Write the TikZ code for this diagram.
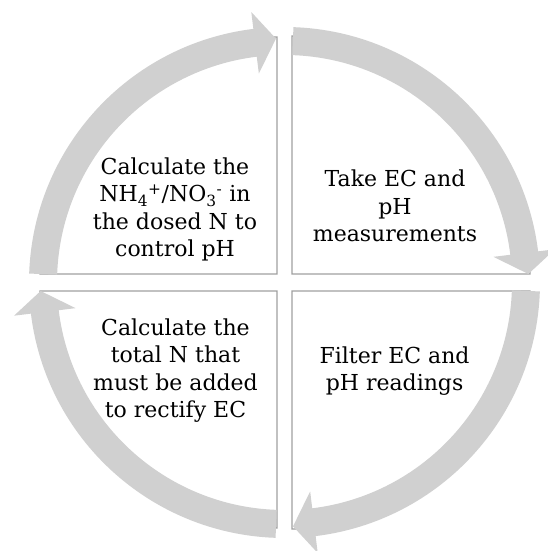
\documentclass[tikz,border=0pt]{standalone}
\usepackage{fontspec}
\setmainfont{DejaVu Serif}
\definecolor{bandgray}{HTML}{D0D0D0}
\definecolor{linegray}{HTML}{A0A0A0}
\begin{document}
\begin{tikzpicture}[x=1pt,y=1pt,
  pie/.style={draw=linegray, line width=1.3pt, fill=white},
  band/.style={fill=bandgray},
  lbl/.style={align=center, font=\fontsize{22}{27.5}\selectfont, inner sep=0pt, text=black}]
\useasboundingbox (0,0) rectangle (547,551);
\fill[white] (0,0) rectangle (547,551);
% quadrant pies
\draw[pie] (277,277) -- (40,277) arc[start angle=180,end angle=90,radius=237] -- cycle;
\draw[pie] (292,277) -- (292,515) arc[start angle=90,end angle=0,radius=238] -- cycle;
\draw[pie] (292,260) -- (530,260) arc[start angle=0,end angle=-90,radius=238] -- cycle;
\draw[pie] (277,260) -- (277,23) arc[start angle=-90,end angle=-180,radius=237] -- cycle;
% circular arrows
\begin{scope}[shift={(284.5,268.5)}]
\foreach \r in {0,-90,-180,-270}{
  \begin{scope}[rotate=\r]
  \fill[band] (178:255.5) arc[start angle=178,end angle=97,radius=255.5]
     -- (97:272.5) -- (92:244) -- (97:210.5) -- (97:227.5)
     arc[start angle=97,end angle=178,radius=227.5] -- cycle;
  \end{scope}
}
\end{scope}
% labels
\node[lbl] (tl) at (175,341.6) {Calculate the\\NH\textsubscript{4}\textsuperscript{+}/NO\textsubscript{3}\textsuperscript{-} in\\the dosed N to\\control pH};
\node[lbl] (tr) at (395,344.9) {Take EC and\\pH\\measurements};
\node[lbl] (br) at (394.6,180.1) {Filter EC and\\pH readings};
\node[lbl] (bl) at (175.5,180.6) {Calculate the\\total N that\\must be added\\to rectify EC};
\end{tikzpicture}
\end{document}
